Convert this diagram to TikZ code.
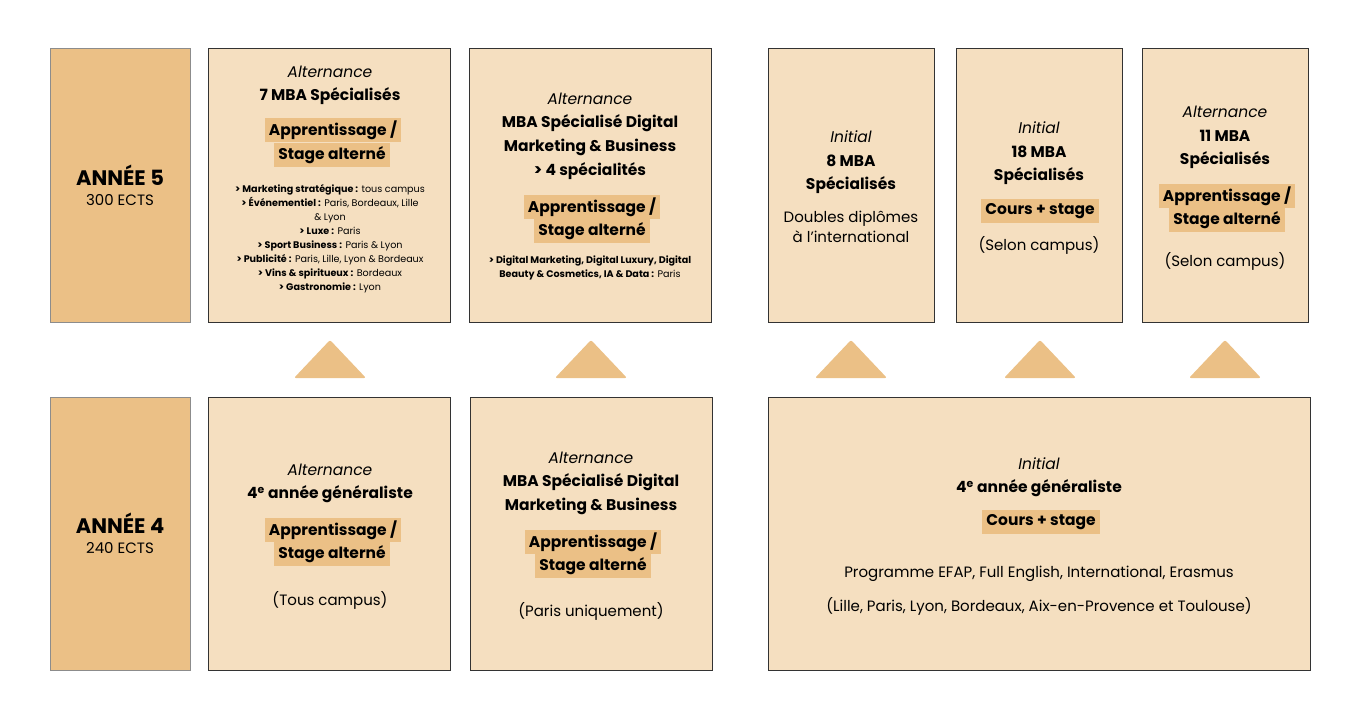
\documentclass[tikz,border=0pt]{standalone}
\usepackage{fontspec}
\setmainfont{Poppins}
\usetikzlibrary{positioning}
\definecolor{light}{HTML}{F5DFC0}
\definecolor{dark}{HTML}{EBC086}

\begin{document}
\begin{tikzpicture}[x=1pt,y=-1pt,
	box/.style={draw=black!80, line width=0.7pt, fill=light, anchor=north west, inner sep=0pt},
	yearbox/.style={box, draw=black!45, fill=dark},
	hl/.style={fill=dark, inner xsep=4pt, inner ysep=0pt, minimum height=24pt, font=\bfseries\fontsize{15.5}{17}\selectfont},
	mode/.style={font=\itshape\fontsize{15.5}{17}\selectfont},
	ttl/.style={font=\bfseries\fontsize{15.5}{17}\selectfont},
	txt/.style={font=\fontsize{15}{17}\selectfont, align=center},
	small/.style={font=\fontsize{9.6}{14}\selectfont, align=center},
	tri/.style={fill=dark, rounded corners=2pt}]
		\useasboundingbox (0,0) rectangle (1360,720);
		% annee 5
		\node[yearbox, minimum width=140pt, minimum height=274pt] (y5) at (50,48) {};
		\node[font=\bfseries\fontsize{21}{22}\selectfont] (y5t) at (120,175) {ANNÉE 5};
		\node[txt] (y5e) at (120,200) {300 ECTS};
		\node[box, minimum width=242pt, minimum height=274pt] (a5) at (208,48) {};
		\node[box, minimum width=242pt, minimum height=274pt] (b5) at (469,48) {};
		\node[box, minimum width=166pt, minimum height=274pt] (c5) at (768,48) {};
		\node[box, minimum width=166pt, minimum height=274pt] (d5) at (956,48) {};
		\node[box, minimum width=166pt, minimum height=274pt] (e5) at (1142,48) {};
		% annee 4
		\node[yearbox, minimum width=140pt, minimum height=273pt] (y4) at (50,397) {};
		\node[font=\bfseries\fontsize{21}{22}\selectfont] (y4t) at (120,523) {ANNÉE 4};
		\node[txt] (y4e) at (120,548) {240 ECTS};
		\node[box, minimum width=242pt, minimum height=273pt] (a4) at (208,397) {};
		\node[box, minimum width=242pt, minimum height=273pt] (b4) at (470,397) {};
		\node[box, minimum width=542pt, minimum height=273pt] (c4) at (768,397) {};
		% fleches
		\foreach \x in {330,591,851,1040,1225}
			\fill[tri] ({\x-36},378) -- (\x,340) -- ({\x+36},378) -- cycle;
		% contenu a5
		\node[mode] (a5m) at (330,72) {Alternance};
		\node[ttl] (a5t) at (330,96) {7 MBA Spécialisés};
		\node[hl] (a5h1) at (333,130) {Apprentissage /};
		\node[hl] (a5h2) at (332,155) {Stage alterné};
		\node[small] (a5l) at (330,239) {\textbf{> Marketing stratégique :} tous campus\\
			\textbf{> Événementiel :} Paris, Bordeaux, Lille\\ \& Lyon\\
			\textbf{> Luxe :} Paris\\
			\textbf{> Sport Business :} Paris \& Lyon\\
			\textbf{> Publicité :} Paris, Lille, Lyon \& Bordeaux\\
			\textbf{> Vins \& spiritueux :} Bordeaux\\
			\textbf{> Gastronomie :} Lyon};
		% contenu b5
		\node[mode] (b5m) at (590,99) {Alternance};
		\node[ttl] (b5t1) at (590,123) {MBA Spécialisé Digital};
		\node[ttl] (b5t2) at (590,147) {Marketing \& Business};
		\node[ttl] (b5t3) at (590,171) {> 4 spécialités};
		\node[hl] (b5h1) at (592,207) {Apprentissage /};
		\node[hl] (b5h2) at (592,231) {Stage alterné};
		\node[small] (b5l) at (590,268) {\textbf{> Digital Marketing, Digital Luxury, Digital}\\
			\textbf{Beauty \& Cosmetics, IA \& Data :} Paris};
		% contenu c5
		\node[mode] (c5m) at (851,137) {Initial};
		\node[ttl] (c5t1) at (851,161) {8 MBA};
		\node[ttl] (c5t2) at (851,185) {Spécialisés};
		\node[txt, font=\fontsize{15}{20}\selectfont] (c5d) at (851,227) {Doubles diplômes\\ à l’international};
		% contenu d5
		\node[mode] (d5m) at (1039,128) {Initial};
		\node[ttl] (d5t1) at (1039,152) {18 MBA};
		\node[ttl] (d5t2) at (1039,176) {Spécialisés};
		\node[hl] (d5h) at (1040,211) {Cours + stage};
		\node[txt] (d5s) at (1039,245) {(Selon campus)};
		% contenu e5
		\node[mode] (e5m) at (1225,112) {Alternance};
		\node[ttl] (e5t1) at (1225,136) {11 MBA};
		\node[ttl] (e5t2) at (1225,160) {Spécialisés};
		\node[hl] (e5h1) at (1227,196) {Apprentissage /};
		\node[hl] (e5h2) at (1227,220) {Stage alterné};
		\node[txt] (e5s) at (1225,261) {(Selon campus)};
		% contenu a4
		\node[mode] (a4m) at (330,470) {Alternance};
		\node[ttl] (a4t) at (330,494) {4\textsuperscript{e} année généraliste};
		\node[hl] (a4h1) at (333,530) {Apprentissage /};
		\node[hl] (a4h2) at (332,554) {Stage alterné};
		\node[txt] (a4s) at (330,600) {(Tous campus)};
		% contenu b4
		\node[mode] (b4m) at (591,458) {Alternance};
		\node[ttl] (b4t1) at (591,482) {MBA Spécialisé Digital};
		\node[ttl] (b4t2) at (591,506) {Marketing \& Business};
		\node[hl] (b4h1) at (593,542) {Apprentissage /};
		\node[hl] (b4h2) at (593,566) {Stage alterné};
		\node[txt] (b4s) at (591,611) {(Paris uniquement)};
		% contenu c4
		\node[mode] (c4m) at (1039,464) {Initial};
		\node[ttl] (c4t) at (1039,488) {4\textsuperscript{e} année généraliste};
		\node[hl] (c4h) at (1041,522) {Cours + stage};
		\node[txt] (c4p) at (1039,574) {Programme EFAP, Full English, International, Erasmus};
		\node[txt] (c4v) at (1039,606) {(Lille, Paris, Lyon, Bordeaux, Aix-en-Provence et Toulouse)};
\end{tikzpicture}
\end{document}
